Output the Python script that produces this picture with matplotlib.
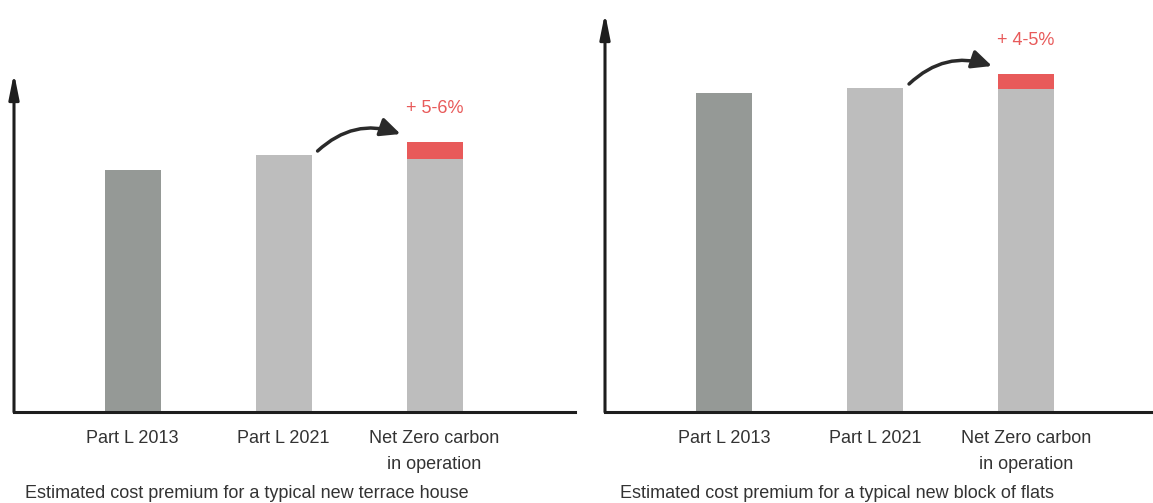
import matplotlib.pyplot as plt
from matplotlib import font_manager

categories = ["Part L 2013", "Part L 2021", "Net Zero carbon\nin operation"]
house_cost = [242, 257, 253]
house_premium = [0, 0, 17]
house_label = "+ 5-6%"
flats_cost = [319, 324, 323]
flats_premium = [0, 0, 15]
flats_label = "+ 4-5%"
captions = [
    "Estimated cost premium for a typical new terrace house",
    "Estimated cost premium for a typical new block of flats",
]

DARK = "#959996"
LIGHT = "#bdbdbd"
RED = "#e85a5a"
INK = "#1e1e1e"
TEXT = "#333333"

names = {f.name for f in font_manager.fontManager.ttflist}
if "Liberation Sans Narrow" in names:
    plt.rcParams["font.family"] = ["Liberation Sans Narrow", "DejaVu Sans"]
    fsize = 15
else:
    plt.rcParams["font.family"] = ["Liberation Sans", "DejaVu Sans"]
    fsize = 13

W, H = 1153, 503
fig = plt.figure(figsize=(W / 100, H / 100), dpi=100)

panels = [
    # left px, right px, top px, xlim
    dict(cost=house_cost, prem=house_premium, label=house_label,
         box=(14, 575, 73), xlim=(-0.785, 2.930), cap_x=25),
    dict(cost=flats_cost, prem=flats_premium, label=flats_label,
         box=(605, 1153, 13), xlim=(-0.788, 2.841), cap_x=620),
]
base_px = 412
bar_w = 56 / 151
x = list(range(len(categories)))

for p, caption in zip(panels, captions):
    left, right, top = p["box"]
    ax = fig.add_axes([left / W, (H - base_px) / H, (right - left) / W,
                       (base_px - top) / H])
    ax.set_xlim(*p["xlim"])
    ax.set_ylim(0, base_px - top)
    colors = [DARK, LIGHT, LIGHT]
    ax.bar(x, p["cost"], width=bar_w, color=colors)
    ax.bar(x, p["prem"], width=bar_w, bottom=p["cost"], color=RED)

    for s in ax.spines.values():
        s.set_visible(False)
    ax.set_yticks([])
    ax.set_xticks(x, categories)
    ax.tick_params(axis="x", length=0, pad=13, labelsize=fsize,
                   labelcolor=TEXT)
    for t in ax.get_xticklabels():
        t.set_linespacing(1.65)

    ax.axhline(0, color=INK, lw=2.2, clip_on=False)
    ax.annotate("", xy=(0, 1), xytext=(0, 0), xycoords="axes fraction",
                arrowprops=dict(arrowstyle="-|>,head_length=1.5,head_width=0.3",
                                lw=2.2, color=INK, shrinkA=0, shrinkB=0),
                annotation_clip=False)

    total = p["cost"][2] + p["prem"][2]
    ax.annotate(p["label"], xy=(x[2], total), xytext=(0, 24),
                textcoords="offset points", ha="center", va="center",
                color=RED, fontsize=fsize)

    start = (x[1] + bar_w / 2 + 0.04, p["cost"][1] + 4)
    end = (x[2] - bar_w / 2 - 0.04, total + 8)
    ax.annotate("", xy=end, xytext=start,
                arrowprops=dict(arrowstyle="-|>,head_length=0.6,head_width=0.28",
                                mutation_scale=20, lw=2.5, color="#2a2a2a",
                                connectionstyle="arc3,rad=-0.3",
                                shrinkA=0, shrinkB=0))

    fig.text(p["cap_x"] / W, 4.5 / H, caption, ha="left", va="baseline",
             fontsize=fsize, color=TEXT)

fig.savefig("out.png", dpi=100)
